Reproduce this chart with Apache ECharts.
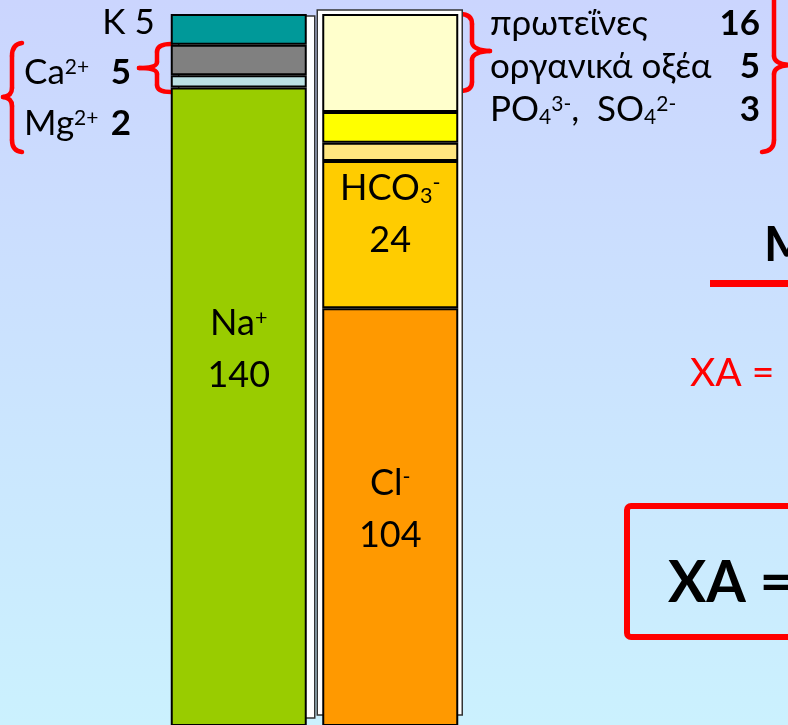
<!DOCTYPE html>
<html>
<head>
<meta charset="utf-8">
<script src="https://cdn.jsdelivr.net/npm/echarts@6/dist/echarts.min.js"></script>
<style>
  html, body { margin: 0; padding: 0; }
  #main { width: 788px; height: 725px; }
</style>
</head>
<body>
<div id="main"></div>
<script>
// two stacked columns: cations | anions (mEq/L), bottom segment first
const columns = ['cations', 'anions'];

const cationNames = ['Na{sup|+}', 'Mg{sup|2+}', 'Ca{sup|2+}', 'K'];
const cationValues = [140, 2, 5, 5];
const cationColors = ['#99cc00', '#bbe1e4', '#808080', '#009999'];

const anionNames = ['Cl{sup|-}', 'HCO{sub|3}{sup|-}', 'PO{sub|4}{sup|3-},  SO{sub|4}{sup|2-}', 'οργανικά οξέα', 'πρωτεΐνες'];
const anionValues = [104, 24, 3, 5, 16];
const anionColors = ['#ff9900', '#ffcc00', '#ffe680', '#ffff00', '#ffffcc'];

const font = 'Lato, "Noto Sans", sans-serif';
function makeRich(size) {
  return {
    sup: { fontSize: size * 0.6, fontFamily: font, verticalAlign: 'middle', padding: [0, 0, size * 0.32, 0] },
    sub: { fontSize: size * 0.6, fontFamily: font, verticalAlign: 'middle', padding: [size * 0.4, 0, 0, 0] },
    b: { fontSize: size, fontFamily: font, fontWeight: 'bold' }
  };
}

function segment(name, value, color, col, label) {
  return {
    type: 'bar',
    name: name,
    stack: 'total',
    barWidth: 136,
    data: columns.map((c, i) => (i === col ? value : '-')),
    itemStyle: { color: color, borderColor: '#000', borderWidth: 2 },
    label: label || { show: false },
    emphasis: { disabled: true },
    z: 3
  };
}

function inside(name, value, offset) {
  return {
    show: true,
    position: 'inside',
    offset: offset,
    formatter: name + '\n' + value,
    fontFamily: font,
    fontSize: 36,
    lineHeight: 52,
    color: '#000',
    rich: makeRich(36)
  };
}

const series = [];
cationNames.forEach((n, i) => {
  let label = null;
  if (i === 0) label = inside(n, cationValues[i], [0, -57]);
  if (n === 'K') label = {
    show: true, position: 'left', distance: 16, offset: [0, -7],
    formatter: n + ' ' + cationValues[i], fontFamily: font, fontSize: 35, color: '#000'
  };
  series.push(segment(n, cationValues[i], cationColors[i], 0, label));
});
anionNames.forEach((n, i) => {
  let label = null;
  if (i <= 1) label = inside(n, anionValues[i], i === 1 ? [0, -20] : [0, -8]);
  series.push(segment(n, anionValues[i], anionColors[i], 1, label));
});

const red = '#ff0000';
// brace drawn from M / L / Q steps as line and quadratic curve pieces
function brace(steps) {
  const parts = [];
  let px = 0, py = 0;
  const st = { stroke: red, lineWidth: 4.5, fill: null, lineCap: 'round' };
  steps.forEach(s => {
    if (s[0] === 'L') {
      parts.push({ type: 'line', shape: { x1: px, y1: py, x2: s[1], y2: s[2] }, style: st });
      px = s[1]; py = s[2];
    } else if (s[0] === 'Q') {
      parts.push({ type: 'bezierCurve', shape: { x1: px, y1: py, cpx1: s[1], cpy1: s[2], x2: s[3], y2: s[4] }, style: st });
      px = s[3]; py = s[4];
    } else {
      px = s[1]; py = s[2];
    }
  });
  return { type: 'group', z: 10, children: parts };
}
function txt(x, y, text, size, opts) {
  return {
    type: 'text', x: x, y: y, z: 10,
    style: Object.assign({
      text: text, fontFamily: font, fontSize: size, fill: '#000',
      align: 'left', verticalAlign: 'middle', rich: makeRich(size)
    }, opts || {})
  };
}

const graphics = [
  // left side annotations
  txt(24, 73, cationNames[2] + ' ', 35),
  txt(131, 73, '{b|' + cationValues[2] + '}', 35, { align: 'right' }),
  txt(24, 124, cationNames[1], 35),
  txt(131, 124, '{b|' + cationValues[1] + '}', 35, { align: 'right' }),
  brace([['M', 22, 43], ['Q', 12, 44, 12, 56], ['L', 12, 88], ['Q', 12, 96, 3, 97], ['Q', 12, 98, 12, 106], ['L', 12, 140], ['Q', 12, 151, 22, 152]]),
  brace([['M', 171, 44], ['Q', 157, 44, 157, 52], ['L', 157, 62], ['Q', 157, 68, 139, 68], ['Q', 157, 68, 157, 74], ['L', 157, 85], ['Q', 157, 92, 171, 92]]),
  // right side annotations
  txt(490, 24, anionNames[4], 35),
  txt(760, 24, '{b|' + anionValues[4] + '}', 35, { align: 'right' }),
  txt(490, 67, anionNames[3], 35),
  txt(760, 67, '{b|' + anionValues[3] + '}', 35, { align: 'right' }),
  txt(490, 110, anionNames[2], 35),
  txt(760, 110, '{b|' + anionValues[2] + '}', 35, { align: 'right' }),
  brace([['M', 460, 14], ['Q', 472, 14, 472, 24], ['L', 472, 42], ['Q', 472, 50, 490, 51], ['Q', 472, 52, 472, 60], ['L', 472, 82], ['Q', 472, 91, 460, 91]]),
  brace([['M', 774, 0], ['L', 774, 56], ['Q', 774, 64, 790, 65], ['Q', 774, 66, 774, 74], ['L', 774, 140], ['Q', 774, 151, 762, 152]]),
  // formula fragments on the right
  txt(764, 246, 'M', 48, { fontWeight: 'bold' }),
  { type: 'rect', shape: { x: 710, y: 280, width: 90, height: 7 }, style: { fill: red }, z: 10 },
  txt(690, 373, 'XA =', 39, { fill: red }),
  { type: 'rect', shape: { x: 627, y: 506, width: 220, height: 131, r: 4 },
    style: { fill: null, stroke: red, lineWidth: 6 }, z: 10 },
  txt(668, 584, 'XA =', 57, { fontWeight: 'bold' })
];

const chart = echarts.init(document.getElementById('main'));
chart.setOption({
  backgroundColor: new echarts.graphic.LinearGradient(0, 0, 0, 1, [
    { offset: 0, color: '#cbd5fe' },
    { offset: 1, color: '#cbf1fe' }
  ]),
  animation: false,
  grid: { left: 163, right: 322, top: 14, bottom: 0 },
  xAxis: { type: 'category', data: columns, show: false },
  yAxis: { type: 'value', min: 36, max: 152, show: false },
  series: series,
  graphic: graphics
});

// white "depth" frames behind each column, placed from the axis scale
const stackTop = chart.convertToPixel({ yAxisIndex: 0 }, 152);
const c0 = chart.convertToPixel({ xAxisIndex: 0 }, columns[0]);
const c1 = chart.convertToPixel({ xAxisIndex: 0 }, columns[1]);
const frameStyle = { fill: '#ffffff', stroke: '#333', lineWidth: 1.5 };
chart.setOption({
  graphic: graphics.concat([
    { type: 'rect', z: 1, shape: { x: c0 - 68 + 8, y: stackTop + 2, width: 136, height: 718 - stackTop - 2 }, style: frameStyle },
    { type: 'rect', z: 1, shape: { x: c1 - 68 - 5, y: stackTop - 4, width: 145, height: 715 - stackTop + 4 }, style: frameStyle }
  ])
}, { replaceMerge: ['graphic'] });
</script>
</body>
</html>
